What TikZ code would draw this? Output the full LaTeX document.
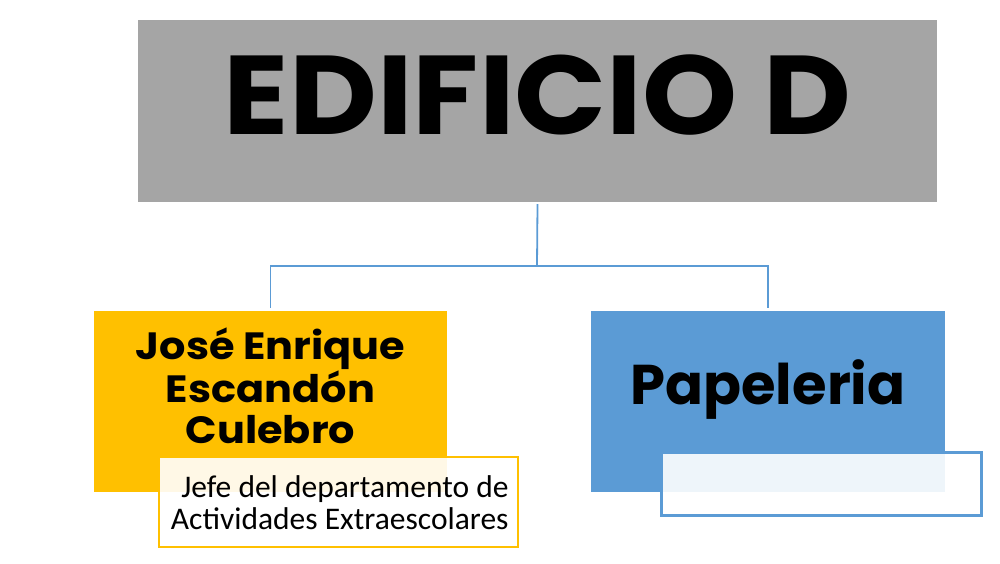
\documentclass[tikz,border=0pt]{standalone}
\usepackage{fontspec}
\usepackage{tikz}
\usetikzlibrary{calc,positioning}
\newfontfamily\headfont{Poppins}
\newfontfamily\notefont{Carlito}
\definecolor{smgray}{HTML}{A5A5A5}
\definecolor{smorange}{HTML}{FFC000}
\definecolor{smblue}{HTML}{5B9BD5}

\begin{document}
\begin{tikzpicture}[x=1pt,y=-1pt,
	mainbox/.style={rectangle,inner sep=0pt,minimum width=#1},
	notebox/.style={rectangle,draw=#1,fill=white,fill opacity=0.9,text opacity=1,line width=1.6pt,inner sep=0pt},
	link/.style={draw=smblue,line width=1.8pt}]
		\useasboundingbox (0,0) rectangle (1000,563);
		\node[mainbox=799pt,fill=smgray,minimum height=182pt] (top) at (537.5,111) {};
		\node[font=\headfont\bfseries\fontsize{112}{112}\selectfont] (toptext) at (537.5,95) {\scalebox{1.08}[1]{EDIFICIO D}};
		\node[mainbox=353pt,fill=smorange,minimum height=181pt] (left) at (270.5,401.5) {};
		\node[font=\headfont\bfseries\fontsize{38}{41}\selectfont,align=center] (lefttext) at (270.5,386) {\scalebox{1.09}[1]{José Enrique}\\\scalebox{1.09}[1]{Escandón}\\\scalebox{1.09}[1]{Culebro}};
		\node[mainbox=354pt,fill=smblue,minimum height=181pt] (right) at (768,401.5) {};
		\node[font=\headfont\bfseries\fontsize{56}{56}\selectfont] (righttext) at (768,390) {Papeleria};
		\node[notebox=smorange,minimum width=359pt,minimum height=90pt] (leftnote) at (338.5,502) {};
		\node[font=\notefont\fontsize{31.5}{32}\selectfont,align=right,anchor=east] (leftnotetext) at (512,503) {Jefe del departamento de\\Actividades Extraescolares};
		\node[notebox=smblue,line width=2.4pt,minimum width=320pt,minimum height=63pt] (rightnote) at (821.5,484) {};
		\coordinate (mid) at (537,266);
		\draw[link] ($(top.south)+(0,2)$) -- (mid);
		\draw[link] (mid) -| ($(left.north)+(0,-3)$);
		\draw[link] (mid) -| ($(right.north)+(0,-3)$);
\end{tikzpicture}
\end{document}
